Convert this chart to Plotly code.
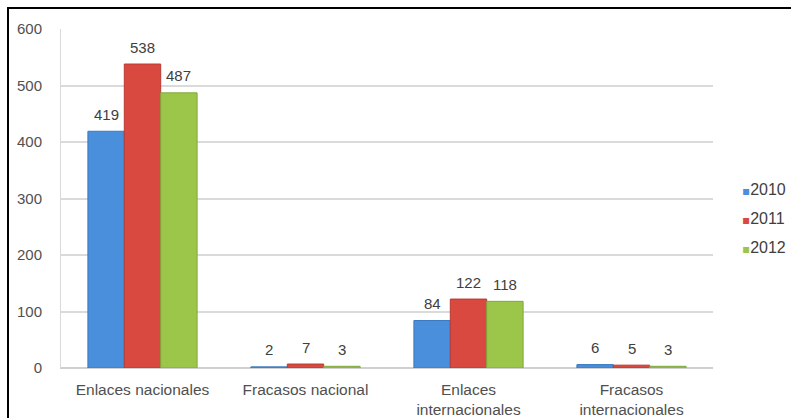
import plotly.graph_objects as go

categories = ["Enlaces nacionales", "Fracasos nacional",
              "Enlaces<br>internacionales", "Fracasos<br>internacionales"]
years = ["2010", "2011", "2012"]
values_2010 = [419, 2, 84, 6]
values_2011 = [538, 7, 122, 5]
values_2012 = [487, 3, 118, 3]
y_ticks = [0, 100, 200, 300, 400, 500, 600]

series = [values_2010, values_2011, values_2012]
colors = ["#4a8fdb", "#d9493f", "#9cc64a"]
edges = ["#3a78bd", "#b83a33", "#80a83a"]

W, H = 791, 418
L, R, T, B = 61, 78, 29, 50
pw, ph = W - L - R, H - T - B
BARGAP = 0.33
bar_px = pw / len(categories) * (1 - BARGAP) / len(years)
FONT = "Liberation Sans, Arial"

fig = go.Figure()
for i, (name, vals, col, edge) in enumerate(zip(years, series, colors, edges)):
    fig.add_trace(go.Bar(
        x=categories, y=vals, name=name, legendgroup=name, showlegend=False,
        marker=dict(color=col, line=dict(color=edge, width=1)),
    ))
    # legend entry: small coloured square drawn inline before the year
    fig.add_trace(go.Scatter(
        x=[None], y=[None], mode="markers", legendgroup=name,
        name=f'<span style="font-family:DejaVu Sans;font-size:12px;color:{col}">▪</span>{name}',
        marker=dict(symbol="square", size=1, color="rgba(0,0,0,0)"),
    ))
    # value labels above each bar
    for cat, v in zip(categories, vals):
        fig.add_annotation(x=cat, y=v, text=str(v), showarrow=False,
                           xshift=(i - 1) * bar_px, yshift=17,
                           font=dict(family=FONT, size=15, color="#404040"))

fig.update_layout(
    width=W, height=H,
    margin=dict(l=L, r=R, t=T, b=B, autoexpand=False),
    paper_bgcolor="white", plot_bgcolor="white",
    barmode="group", bargap=BARGAP, bargroupgap=0,
    font=dict(family=FONT, size=15, color="#505050"),
    showlegend=True,
    legend=dict(x=(702 - L) / pw, y=(H - B - 218) / ph, xanchor="left", yanchor="middle",
                tracegroupgap=5, itemwidth=30, font=dict(family=FONT, size=16, color="#404040"),
                bgcolor="rgba(0,0,0,0)"),
    xaxis=dict(showgrid=False, showline=True, linecolor="#d0d0d0", linewidth=1,
               automargin=False, ticks="", ticklabelstandoff=7,
               tickfont=dict(family=FONT, size=15.5, color="#505050")),
    yaxis=dict(range=[0, 600], tickvals=y_ticks, showgrid=True, gridcolor="#dadada",
               gridwidth=1.5, showline=True, linecolor="#d9d9d9", linewidth=1,
               zeroline=True, zerolinecolor="#cfcfcf", zerolinewidth=1.5,
               automargin=False, ticks="", ticklabelstandoff=15,
               tickfont=dict(family=FONT, size=15, color="#505050")),
)

# outer frame of the chart
fig.add_shape(type="rect", xref="paper", yref="paper",
              x0=(8 - L) / pw, x1=1.5, y0=-0.5, y1=1 + (T - 8) / ph,
              line=dict(color="black", width=2), fillcolor="rgba(0,0,0,0)", layer="above")

fig.write_html("out.html")
